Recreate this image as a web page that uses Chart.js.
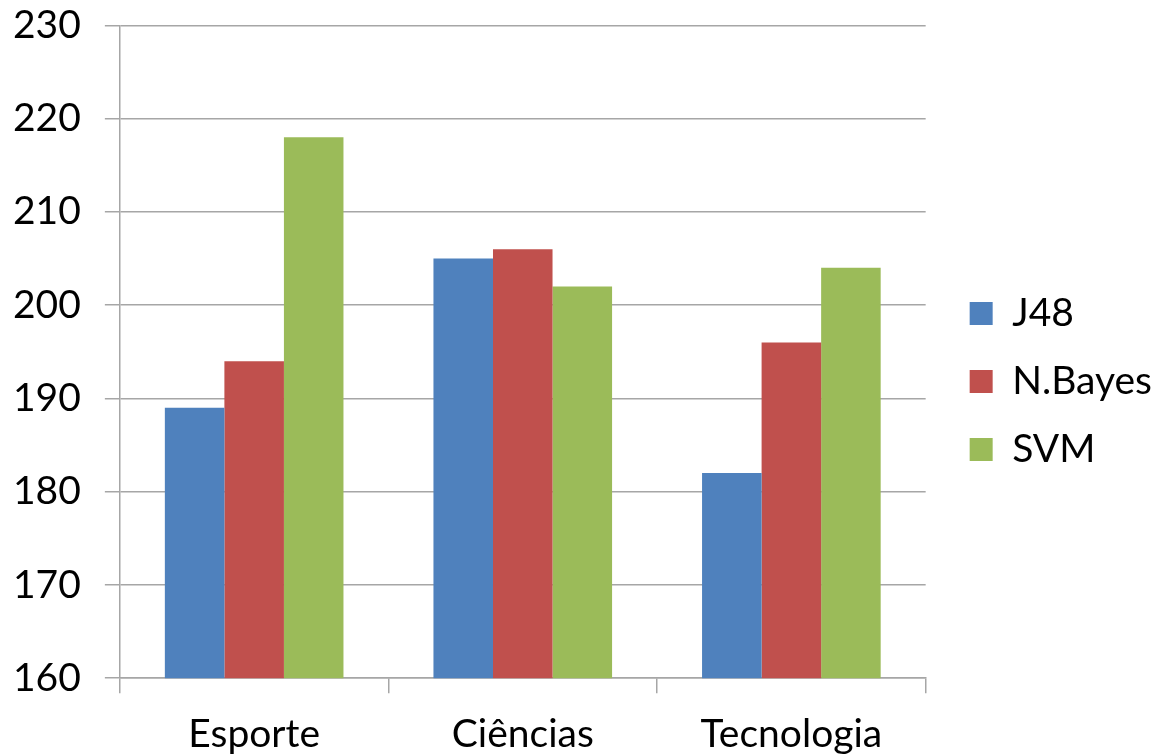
<!DOCTYPE html>
<html>
<head>
<meta charset="utf-8">
<script src="https://cdn.jsdelivr.net/npm/chart.js@4/dist/chart.umd.min.js"></script>
<style>
html,body{margin:0;padding:0;background:#fff;overflow:hidden;}
#wrap{width:1162px;height:755px;position:relative;overflow:hidden;}
#c{position:absolute;left:-11px;top:-22px;}
</style>
</head>
<body>
<div id="wrap"><canvas id="c" width="1173" height="798"></canvas></div>
<script>
const categories = ["Esporte", "Ciências", "Tecnologia"];
const j48 = [189, 205, 182];
const nBayes = [194, 206, 196];
const svm = [218, 202, 204];
const yTicks = [160, 170, 180, 190, 200, 210, 220, 230];

const FONT = "Lato, 'Open Sans', sans-serif";
const GRID = "#a6a6a6";
const LEGEND_GAP = 15;

const legendShift = {
  id: 'legendShift',
  afterLayout(chart) {
    const l = chart.legend;
    if (l) { l.left += LEGEND_GAP; l.right += LEGEND_GAP; }
  }
};

new Chart(document.getElementById('c'), {
  type: 'bar',
  data: {
    labels: categories,
    datasets: [
      {label: 'J48', data: j48, backgroundColor: '#4F81BD'},
      {label: 'N.Bayes', data: nBayes, backgroundColor: '#C0504D'},
      {label: 'SVM', data: svm, backgroundColor: '#9BBB59'}
    ]
  },
  plugins: [legendShift],
  options: {
    responsive: false,
    animation: false,
    devicePixelRatio: 1,
    layout: {padding: {top: 0, left: 0, right: LEGEND_GAP, bottom: 0}},
    datasets: {bar: {categoryPercentage: 0.665, barPercentage: 1.0, borderWidth: 0}},
    plugins: {
      tooltip: {enabled: false},
      title: {display: false},
      legend: {
        position: 'right',
        title: {display: true, text: ' ', font: {size: 1}, padding: 4},
        labels: {
          font: {family: FONT, size: 39},
          color: '#000',
          boxWidth: 23,
          boxHeight: 23,
          padding: 29
        }
      }
    },
    scales: {
      x: {
        grid: {display: true, drawOnChartArea: false, drawTicks: true, tickLength: 15, color: GRID, lineWidth: 1.5, offset: true},
        border: {display: true, color: GRID, width: 1.5},
        ticks: {font: {family: FONT, size: 39}, color: '#000', padding: 18}
      },
      y: {
        min: 160, max: 230,
        afterBuildTicks: (axis) => { axis.ticks = yTicks.map(v => ({value: v})); },
        grid: {display: true, drawTicks: true, tickLength: 15, color: GRID, lineWidth: 1.5},
        border: {display: true, color: GRID, width: 1.5},
        ticks: {font: {family: FONT, size: 39}, color: '#000', padding: 24}
      }
    }
  }
});
</script>
</body>
</html>
